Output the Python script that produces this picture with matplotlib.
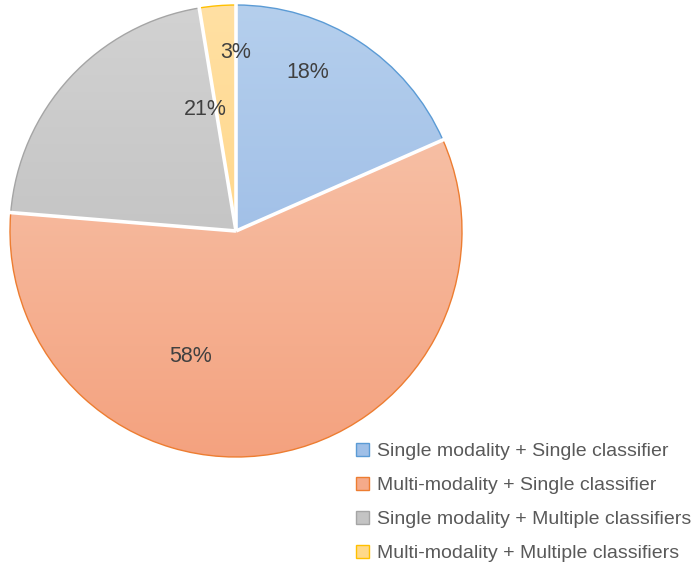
import matplotlib.pyplot as plt
import numpy as np
from matplotlib.patches import Patch
from matplotlib.colors import LinearSegmentedColormap

# shares of each approach (percent)
categories = [
    "Single modality + Single classifier",
    "Multi-modality + Single classifier",
    "Single modality + Multiple classifiers",
    "Multi-modality + Multiple classifiers",
]
shares = [18.4, 57.9, 21.1, 2.6]

# gradient colours (top, bottom) and outline colour per slice
top_colors = ["#b5cfed", "#f8cbb4", "#d2d2d2", "#ffe0a3"]
bottom_colors = ["#8fb2e2", "#f4a27f", "#b8b8b8", "#ffcf75"]
edge_colors = ["#5b9bd5", "#ed7d31", "#a5a5a5", "#ffc000"]
legend_colors = ["#9fbfe7", "#f5aa8a", "#c4c4c4", "#ffd98a"]

# label placement: angle (deg) and fraction of radius
label_angle = [65.6, 250.0, 104.0, 90.0]
label_frac = [0.77, 0.59, 0.555, 0.79]

W, H = 696, 564
cx, cy, r = 236, H - 231, 226

fig = plt.figure(figsize=(W / 100, H / 100), dpi=100)
ax = fig.add_axes([0, 0, 1, 1])

wedges, _ = ax.pie(shares, startangle=90, counterclock=False,
                   center=(cx, cy), radius=r, frame=True,
                   wedgeprops=dict(facecolor="none", linewidth=1.0))

grad = np.linspace(0, 1, 256).reshape(-1, 1)
for w, c0, c1, ec in zip(wedges, top_colors, bottom_colors, edge_colors):
    w.set_edgecolor(ec)
    w.set_zorder(3)
    cmap = LinearSegmentedColormap.from_list("g", [c0, c1])
    im = ax.imshow(grad, cmap=cmap, extent=(cx - r, cx + r, cy - r, cy + r),
                   origin="upper", aspect="auto", zorder=2, interpolation="bilinear")
    im.set_clip_path(w)

# white separators between slices
bounds = np.cumsum([0] + shares)
for b in bounds[:-1]:
    ang = np.deg2rad(90 - b * 3.6)
    ax.plot([cx, cx + (r + 3) * np.cos(ang)], [cy, cy + (r + 3) * np.sin(ang)],
            color="white", linewidth=2.6, zorder=4, solid_capstyle="butt")

for s, a, f in zip(shares, label_angle, label_frac):
    t = np.deg2rad(a)
    ax.text(cx + f * r * np.cos(t), cy + f * r * np.sin(t), "%d%%" % round(s),
            ha="center", va="center", fontsize=15.5, color="#404040",
            family="Liberation Sans", zorder=5)

handles = [Patch(facecolor=fc, edgecolor=ec, linewidth=1.0)
           for fc, ec in zip(legend_colors, edge_colors)]
ax.legend(handles, categories, loc="upper left",
          bbox_to_anchor=(356 / W, 1 - 443 / H), frameon=False,
          prop=dict(family="Liberation Sans", size=14), labelcolor="#595959",
          handlelength=0.65, handleheight=0.65, handletextpad=0.45,
          labelspacing=0.86, borderpad=0, borderaxespad=0)

ax.set_xlim(0, W)
ax.set_ylim(0, H)
ax.set_aspect("equal")
ax.axis("off")

plt.savefig("out.png", dpi=100)
